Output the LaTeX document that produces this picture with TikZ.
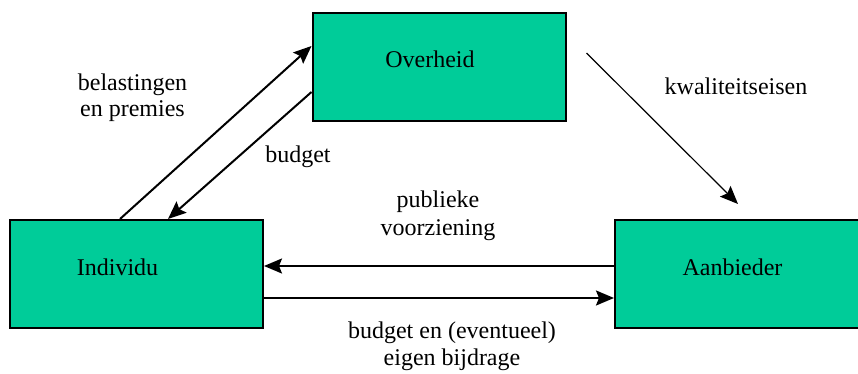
\documentclass[tikz,border=0pt]{standalone}
\usepackage{fontspec}
\setmainfont{Liberation Serif}
\usetikzlibrary{arrows.meta}
\definecolor{vakgroen}{RGB}{0,204,153}

\begin{document}
\begin{tikzpicture}[x=0.5pt,y=-0.5pt,
    font=\fontsize{12}{13}\selectfont,
    vak/.style={draw, line width=1pt, fill=vakgroen, minimum width=126.5pt,
      minimum height=54pt, inner sep=0pt},
    pijl/.style={line width=1pt, -{Stealth[length=9pt,width=7.5pt,inset=1.5pt]}},
    dunnepijl/.style={pijl, line width=0.6pt},
    tekst/.style={align=center, anchor=base}]
  \useasboundingbox (0,0) rectangle (858,374);
  % de drie partijen
  \node[vak, label={[shift={(-9,-8)}]center:Overheid}] (overheid) at (439,67.5) {};
  \node[vak, label={[shift={(-19,-7)}]center:Individu}] (individu) at (136.5,274) {};
  \node[vak, label={[shift={(-9,-7)}]center:Aanbieder}] (aanbieder) at (741.5,274) {};
  %
  \coordinate (eisen) at ([xshift=-1.75pt,yshift=7.5pt]aanbieder.north);
  %
  \draw [pijl] ([xshift=-8.25pt]individu.north) to ([yshift=10.75pt]overheid.west);
  \draw [pijl] ([yshift=-12.25pt]overheid.west) to ([xshift=15.75pt]individu.north);
  \draw [dunnepijl] ([xshift=10pt,yshift=7.25pt]overheid.east) to (eisen);
  \draw [pijl] ([yshift=4pt]aanbieder.west) to ([yshift=4pt]individu.east);
  \draw [pijl] ([yshift=-12pt]individu.east) to ([yshift=-12pt]aanbieder.west);
  % bij meerregelige tekst ligt base op de laatste regel
  \node[tekst] (belasting) at (132.5,117) {belastingen\\en premies};
  \node[tekst] (budget) at (298,163) {budget};
  \node[tekst] (kwaliteit) at (736,95) {kwaliteitseisen};
  \node[tekst, font=\fontsize{12}{13.5}\selectfont] (voorziening) at (438,235) {publieke\\voorziening};
  \node[tekst, font=\fontsize{12}{13.5}\selectfont] (bijdrage) at (452,365) {budget en (eventueel)\\eigen bijdrage};
\end{tikzpicture}
\end{document}
